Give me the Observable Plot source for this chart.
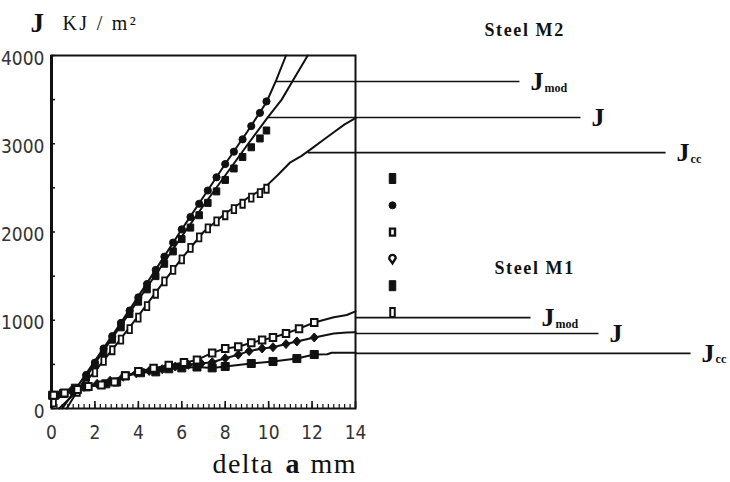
<!DOCTYPE html>
<html>
<head>
<meta charset="utf-8">
<script src="https://cdn.jsdelivr.net/npm/d3@7"></script>
<script src="https://cdn.jsdelivr.net/npm/@observablehq/plot@0.6"></script>
<style>
  body { margin: 0; background: #fff; }
  #chart svg { display: block; }
</style>
</head>
<body>
<div id="chart"></div>
<script>
// ---------- axes ----------
const xTicks = [0, 2, 4, 6, 8, 10, 12, 14];
const yTicks = [0, 1000, 2000, 3000, 4000];

// ---------- Steel M2 : measured points [delta a (mm), J (kJ/m²)] ----------
const m2JmodPts = [[1.2,230],[1.6,380],[2.0,520],[2.4,680],[2.8,820],[3.2,970],[3.6,1110],[4.0,1260],[4.4,1410],[4.8,1570],[5.2,1720],[5.6,1880],[6.0,2030],[6.4,2170],[6.8,2320],[7.2,2470],[7.6,2620],[8.0,2770],[8.4,2910],[8.8,3050],[9.2,3200],[9.6,3350],[9.9,3480]];
const m2JPts = [[1.2,210],[1.6,350],[2.0,490],[2.4,640],[2.8,780],[3.2,920],[3.6,1070],[4.0,1210],[4.4,1350],[4.8,1500],[5.2,1640],[5.6,1780],[6.0,1920],[6.4,2050],[6.8,2190],[7.2,2330],[7.6,2460],[8.0,2590],[8.4,2720],[8.8,2850],[9.2,2960],[9.6,3060],[9.9,3150]];
const m2JccPts = [[0.1,70],[1.2,190],[1.6,300],[2.0,410],[2.4,540],[2.8,660],[3.2,780],[3.6,900],[4.0,1030],[4.4,1160],[4.8,1300],[5.2,1440],[5.6,1570],[6.0,1690],[6.4,1820],[6.8,1940],[7.2,2040],[7.6,2120],[8.0,2190],[8.4,2260],[8.8,2320],[9.2,2390],[9.6,2440],[9.9,2490]];

// Steel M2 : fitted curves
const m2JmodCurve = [[0.5,0],[1.2,250],[2,540],[3,900],[4,1270],[5,1650],[6,2030],[7,2400],[8,2770],[9,3130],[9.9,3470],[10.35,3720],[10.8,4000]];
const m2JCurve = [[0.7,0],[1.2,200],[2,510],[3,870],[4,1230],[5,1590],[6,1950],[7,2300],[8,2640],[9,2980],[9.95,3297],[10.6,3500],[11.2,3750],[11.8,4000]];
const m2JccCurve = [[0.35,0],[1.2,200],[2,420],[3,730],[4,1050],[5,1380],[6,1700],[7,2000],[8,2210],[9,2380],[9.8,2500],[10.4,2640],[11,2790],[11.5,2860],[11.9,2930],[12.5,3040],[13,3130],[13.5,3220],[14,3290]];

// ---------- Steel M1 : measured points ----------
const m1JmodPts = [[0.1,150],[0.6,175],[1.2,215],[1.7,250],[2.3,265],[2.9,300],[3.4,370],[4.0,420],[4.7,455],[5.4,490],[6.1,520],[6.7,550],[7.4,630],[8.0,680],[8.6,700],[9.2,745],[9.7,775],[10.2,805],[10.8,850],[11.4,905],[12.1,975]];
const m1JPts = [[0.3,150],[0.9,200],[1.5,245],[2.1,280],[2.7,315],[3.3,360],[3.9,400],[4.5,425],[5.1,445],[5.7,475],[6.3,495],[6.9,510],[7.4,525],[8.0,570],[8.6,610],[9.1,650],[9.7,680],[10.2,695],[10.8,730],[11.3,760],[12.1,805]];
const m1JccPts = [[0.05,150],[0.55,170],[1.1,230],[1.6,245],[2.5,280],[3.0,300],[3.4,370],[4.1,405],[4.8,415],[5.4,450],[6.0,460],[6.7,470],[7.4,460],[8.0,476],[9.2,510],[10.2,533],[11.3,566],[12.1,612]];

// Steel M1 : curve continuations beyond the last point
const m1JmodTail = [[13,1035],[13.6,1060],[14,1100]];
const m1JTail = [[13,850],[13.6,862],[14,865]];
const m1JccTail = [[12.7,615],[12.9,632],[14,632]];

// ---------- leader lines & labels ----------
const leaderSub = ["mod", "", "cc", "mod", "", "cc"];
const leaderJ = [3705, 3297, 2900, 1030, 850, 625];
const leaderFrom = [10.3, 9.95, 11.8, 14, 14, 14];
const leaderTo = [21.55, 24.36, 28.28, 22.06, 25.19, 29.43];

const steelTitles = ["Steel M2", "Steel M1"];
const legendSymbols = ["rectFill", "circleFill", "squareOpen", "dropOpen", "rectFill", "rectOpen"];

// ---------- layout ----------
const W = 730, H = 482;
const mLeft = 51, mRight = 375, mTop = 55, mBottom = 74;
const frameW = W - mLeft - mRight;
const frameH = H - mTop - mBottom;
const ink = "#111";
const serif = "'Liberation Serif','DejaVu Serif',serif";
const narrow = "'Liberation Sans Narrow','DejaVu Sans Condensed','Liberation Sans',sans-serif";

// custom marker shapes
const rectSym = (w, h) => ({draw(ctx) { ctx.moveTo(-w/2, -h/2); ctx.lineTo(w/2, -h/2); ctx.lineTo(w/2, h/2); ctx.lineTo(-w/2, h/2); ctx.closePath(); }});
const diamondSym = (w, h) => ({draw(ctx) { ctx.moveTo(0, -h/2); ctx.lineTo(w/2, 0); ctx.lineTo(0, h/2); ctx.lineTo(-w/2, 0); ctx.closePath(); }});
const dropSym = {draw(ctx) { ctx.moveTo(0, 4.5); ctx.lineTo(-3.2, 0); ctx.arc(0, -0.8, 3.2, Math.PI, 0); ctx.closePath(); }};
const circleSym = (r) => ({draw(ctx) { ctx.moveTo(r, 0); ctx.arc(0, 0, r, 0, 2 * Math.PI); }});

const legendStyle = {
  rectFill:   {symbol: rectSym(6.5, 10), fill: ink, stroke: ink, strokeWidth: 1},
  circleFill: {symbol: circleSym(3.5), fill: ink, stroke: ink, strokeWidth: 1},
  squareOpen: {symbol: rectSym(5, 7), fill: "white", stroke: ink, strokeWidth: 2.4},
  dropOpen:   {symbol: dropSym, fill: "white", stroke: ink, strokeWidth: 2.4},
  rectOpen:   {symbol: rectSym(4.5, 9), fill: "white", stroke: ink, strokeWidth: 2}
};

const rows = (arr) => arr.map(([a, J]) => ({a, J}));
const leaders = leaderJ.map((J, i) => ({J, from: leaderFrom[i], to: leaderTo[i], sub: leaderSub[i]}));

const lineOpts = {x: "a", y: "J", stroke: ink, strokeWidth: 2, curve: "linear"};

// letter-spacing helper applied after render
const spaced = (opts, px) => ({...opts, render(index, scales, values, dims, ctx, next) {
  const g = next(index, scales, values, dims, ctx);
  d3.select(g).selectAll("text").attr("letter-spacing", px);
  return g;
}});

const marks = [
  // inward tick marks
  Plot.tickX(d3.range(0, 14.01, 0.25), {x: d => d, insetTop: frameH - 4, stroke: ink, strokeWidth: 1.2}),
  Plot.tickX(xTicks, {x: d => d, insetTop: frameH - 7, stroke: ink, strokeWidth: 1.6}),
  Plot.tickY(d3.range(0, 4001, 500), {y: d => d, insetRight: frameW - 4, stroke: ink, strokeWidth: 1.5}),
  Plot.axisX({ticks: xTicks, tickSize: 0, tickPadding: 17, tickFormat: d => String(d), label: null, fill: "#333"}),
  Plot.axisY({ticks: yTicks, tickSize: 0, tickPadding: 7, dy: 3, tickFormat: d => String(d), label: null, fill: "#333"}),
  Plot.frame({stroke: ink, strokeWidth: 2}),
  Plot.ruleX([0], {stroke: ink, strokeWidth: 3}),

  // leader lines
  Plot.link(leaders, {x1: "from", x2: "to", y1: "J", y2: "J", stroke: ink, strokeWidth: 1.6}),

  // Steel M2 curves and points
  Plot.line(rows(m2JmodCurve), lineOpts),
  Plot.line(rows(m2JCurve), lineOpts),
  Plot.line(rows(m2JccCurve), lineOpts),
  Plot.dot(rows(m2JccPts), {x: "a", y: "J", symbol: rectSym(4.5, 8), fill: "white", stroke: ink, strokeWidth: 1.8}),
  Plot.dot(rows(m2JPts), {x: "a", y: "J", symbol: rectSym(6.5, 7), fill: ink, stroke: ink, strokeWidth: 1}),
  Plot.dot(rows(m2JmodPts), {x: "a", y: "J", symbol: circleSym(3.6), fill: ink, stroke: ink, strokeWidth: 1}),

  // Steel M1 curves and points
  Plot.line(rows([...m1JmodPts, ...m1JmodTail]), lineOpts),
  Plot.line(rows([...m1JPts, ...m1JTail]), lineOpts),
  Plot.line(rows([...m1JccPts, ...m1JccTail]), lineOpts),
  Plot.dot(rows(m1JccPts), {x: "a", y: "J", symbol: rectSym(8, 8), fill: ink, stroke: ink, strokeWidth: 1}),
  Plot.dot(rows(m1JPts), {x: "a", y: "J", symbol: diamondSym(8, 9), fill: ink, stroke: ink, strokeWidth: 1}),
  Plot.dot(rows(m1JmodPts), {x: "a", y: "J", symbol: rectSym(6.5, 7), fill: "white", stroke: ink, strokeWidth: 2}),

  // leader labels
  Plot.text(leaders, {x: "to", y: "J", text: () => "J", dx: 11, textAnchor: "start", lineAnchor: "middle",
    fontSize: 26, fontWeight: "bold", fontFamily: serif, fill: ink}),
  Plot.text(leaders, {x: "to", y: "J", text: "sub", dx: 25, dy: 10, textAnchor: "start", lineAnchor: "bottom",
    fontSize: 12, fontWeight: "bold", fontFamily: serif, fill: ink}),

  // y title
  Plot.text(["J"], {frameAnchor: "top-left", dx: -21, dy: -24, textAnchor: "start", lineAnchor: "bottom",
    fontSize: 27, fontWeight: "bold", fontFamily: serif, fill: ink}),
  Plot.text(["KJ / m²"], spaced({frameAnchor: "top-left", dx: 11, dy: -26, textAnchor: "start", lineAnchor: "bottom",
    fontSize: 20, fontFamily: serif, fill: ink}, 2.3)),

  // x title
  Plot.text(["delta"], spaced({frameAnchor: "bottom-left", dx: 161, dy: 64, textAnchor: "start", lineAnchor: "bottom",
    fontSize: 28, fontFamily: serif, fill: ink}, 1.4)),
  Plot.text(["a"], {frameAnchor: "bottom-left", dx: 234, dy: 64, textAnchor: "start", lineAnchor: "bottom",
    fontSize: 28, fontWeight: "bold", fontFamily: serif, fill: ink}),
  Plot.text(["mm"], spaced({frameAnchor: "bottom-left", dx: 259, dy: 64, textAnchor: "start", lineAnchor: "bottom",
    fontSize: 28, fontFamily: serif, fill: ink}, 1.5)),

  // steel titles
  Plot.text([steelTitles[0]], spaced({frameAnchor: "top-left", dx: 433, dy: -20, textAnchor: "start", lineAnchor: "bottom",
    fontSize: 18, fontWeight: "bold", fontFamily: serif, fill: ink}, 1.6)),
  Plot.text([steelTitles[1]], spaced({frameAnchor: "top-left", dx: 443, dy: 218, textAnchor: "start", lineAnchor: "bottom",
    fontSize: 18, fontWeight: "bold", fontFamily: serif, fill: ink}, 1.6)),

  // marker key column
  ...legendSymbols.map((s, i) => Plot.dot([s], {frameAnchor: "top-left", dx: 341, dy: 123 + i * 26.8, ...legendStyle[s]}))
];

const chart = Plot.plot({
  width: W,
  height: H,
  marginLeft: mLeft,
  marginRight: mRight,
  marginTop: mTop,
  marginBottom: mBottom,
  style: {fontFamily: narrow, fontSize: "19px", background: "white", color: ink},
  x: {domain: [0, 14]},
  y: {domain: [0, 4000]},
  marks
});
document.getElementById("chart").appendChild(chart);
</script>
</body>
</html>
